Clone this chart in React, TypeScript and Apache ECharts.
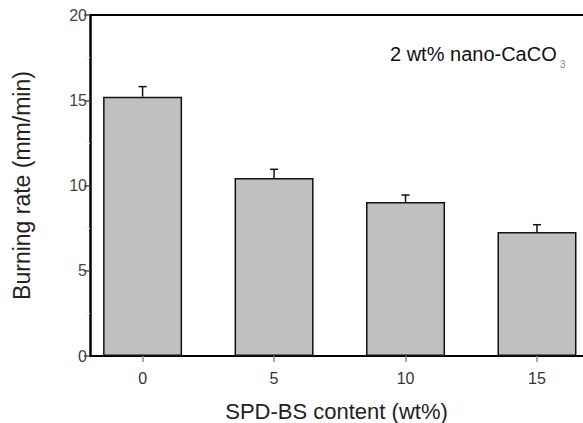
import React, { useEffect, useRef } from "react";
import * as echarts from "echarts";

const contents = [0, 5, 10, 15];
const burningRate = [15.21, 10.44, 9.03, 7.27];
const errors = [0.59, 0.51, 0.41, 0.43];
const yTicks = [0, 5, 10, 15, 20];
const annotation = "2 wt% nano-CaCO";
const annotationSub = "3";

export default function App() {
  const ref = useRef<HTMLDivElement>(null);
  useEffect(() => {
    if (!ref.current) return;
    const chart = echarts.init(ref.current, null, { renderer: "svg" });
    const font = "Liberation Sans, Arial, sans-serif";
    const barData = contents.map((c, i) => [c, burningRate[i]]);
    const errData = contents.map((c, i) => [c, burningRate[i], errors[i]]);
    chart.setOption({
      animation: false,
      backgroundColor: "#fff",
      grid: { left: 90, right: 0, top: 15, bottom: 67, outerBoundsMode: "none", containLabel: false },
      xAxis: [
        {
          type: "value",
          min: -2,
          max: 16.75,
          name: "SPD-BS content (wt%)",
          nameLocation: "middle",
          nameGap: 44,
          nameTextStyle: { fontFamily: font, fontSize: 22, color: "#222" },
          axisLine: { show: true, onZero: false, lineStyle: { color: "#000", width: 2 } },
          axisTick: { show: true, length: 6, customValues: contents, lineStyle: { color: "#888", width: 1.5 } },
          axisLabel: { customValues: contents, fontFamily: font, fontSize: 16, color: "#333", margin: 14 },
          splitLine: { show: false },
        },
        {
          type: "value",
          position: "top",
          min: -2,
          max: 16.75,
          axisLine: { show: true, onZero: false, lineStyle: { color: "#000", width: 2 } },
          axisTick: { show: false },
          axisLabel: { show: false },
          splitLine: { show: false },
        },
      ],
      yAxis: {
        type: "value",
        min: yTicks[0],
        max: yTicks[yTicks.length - 1],
        interval: 5,
        name: "Burning rate (mm/min)",
        nameLocation: "middle",
        nameGap: 57,
        nameTextStyle: { fontFamily: font, fontSize: 23, color: "#222" },
        axisLine: { show: true, onZero: false, lineStyle: { color: "#000", width: 2.5 } },
        axisTick: { show: true, length: 6, lineStyle: { color: "#555", width: 1.5 } },
        minorTick: { show: true, splitNumber: 2, length: 3, lineStyle: { color: "#ddd" } },
        axisLabel: { fontFamily: font, fontSize: 16, color: "#444", margin: 3 },
        splitLine: { show: false },
      },
      series: [
        {
          type: "bar",
          xAxisIndex: 0,
          data: barData,
          barWidth: 79,
          itemStyle: { color: "#c0c0c0", borderColor: "#111", borderWidth: 1.5 },
          z: 2,
        },
        {
          type: "custom",
          xAxisIndex: 0,
          data: errData,
          z: 3,
          renderItem: (params: any, api: any) => {
            const x = api.value(0);
            const v = api.value(1);
            const e = api.value(2);
            const p0 = api.coord([x, v]);
            const p1 = api.coord([x, v + e]);
            const half = 4;
            return {
              type: "group",
              children: [
                { type: "line", shape: { x1: p0[0], y1: p0[1], x2: p1[0], y2: p1[1] }, style: { stroke: "#111", lineWidth: 1.5 } },
                { type: "line", shape: { x1: p1[0] - half, y1: p1[1], x2: p1[0] + half, y2: p1[1] }, style: { stroke: "#111", lineWidth: 1.5 } },
              ],
            };
          },
        },
      ],
      graphic: [
        { type: "text", left: 390, top: 44, style: { text: annotation, fontFamily: font, fontSize: 20, fill: "#111" } },
        { type: "text", left: 560, top: 59, style: { text: annotationSub, fontFamily: font, fontSize: 10, fill: "#888" } },
      ],
    });
    return () => chart.dispose();
  }, []);
  return <div ref={ref} style={{ position: "absolute", left: 0, top: 0, width: 583, height: 423 }} />;
}
